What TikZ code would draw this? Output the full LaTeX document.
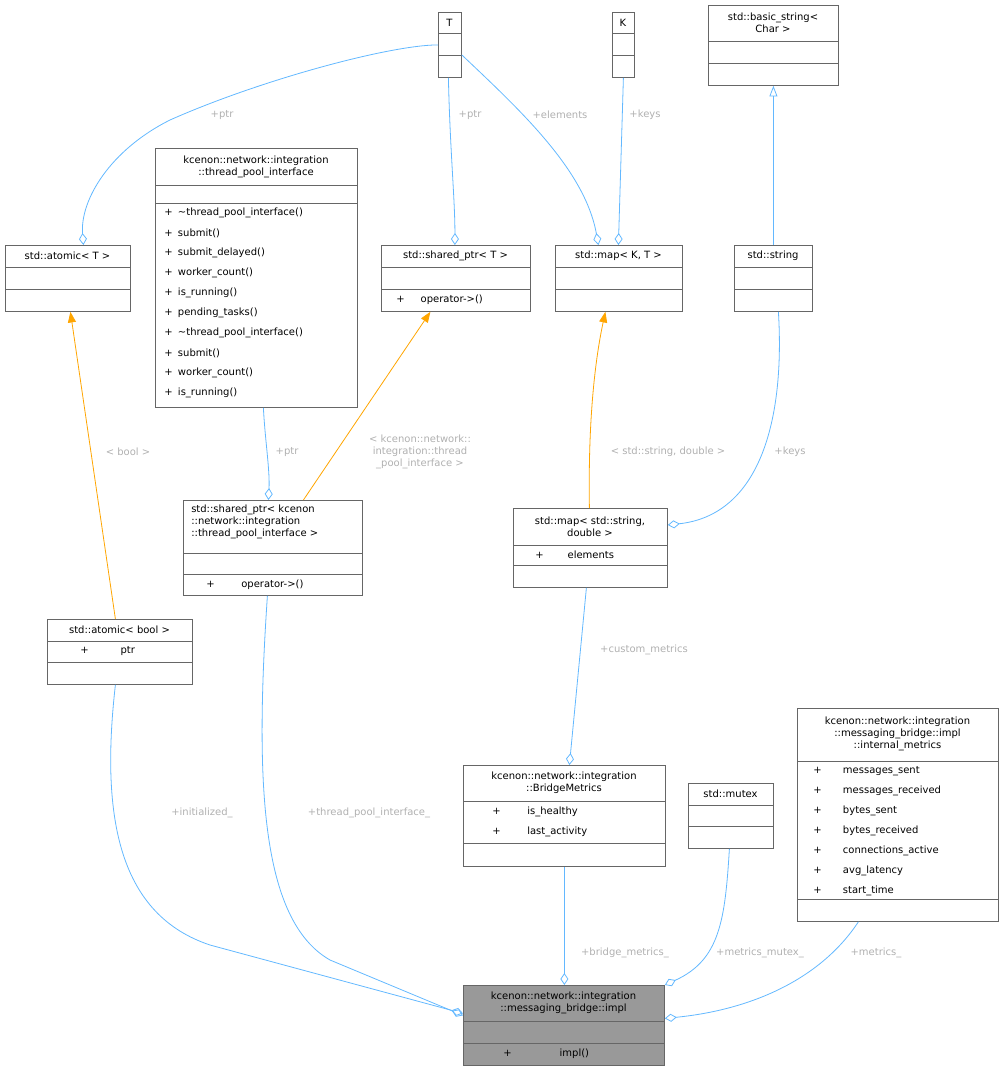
\documentclass[tikz,border=0pt]{standalone}
\usepackage{fontspec}
\setmainfont{DejaVu Sans}
\usetikzlibrary{arrows.meta,calc}
\definecolor{edgeblue}{HTML}{63B8FF}
\definecolor{edgeorange}{HTML}{FFA500}
\definecolor{boxline}{HTML}{666666}
\definecolor{lblgray}{HTML}{B0B0B0}
\tikzset{umlbox/.style = {draw=boxline, inner sep=0, line width=0.6pt},
  txt/.style = {inner sep=0, font=\fontsize{7.5}{9}\selectfont, align=center},
  mem/.style = {txt, anchor=west},
  lbl/.style = {txt, text=lblgray},
  agg/.style = {draw=edgeblue, line width=0.6pt, {Diamond[open, length=9pt, width=6pt]}-},
  inst/.style = {draw=edgeorange, line width=0.6pt, -{Triangle[length=8pt, width=6pt]}},
  inh/.style = {draw=edgeblue, line width=0.6pt, -{Triangle[open, length=8pt, width=6pt]}}}
\newcommand\umlbox[6]{\node[umlbox, fill=#6, minimum width={(#4-#2)*0.75pt},
  minimum height={(#5-#3)*0.75pt}, anchor=north west] (#1) at (#2,#3) {};}
\newcommand\sep[3]{\draw[boxline, line width=0.6pt] (#1,#3) -- (#2,#3);}

\begin{document}
\begin{tikzpicture}[x=0.75pt, y=-0.75pt]
  \useasboundingbox (0,0) rectangle (1003,1071);
  % class boxes
  \umlbox{t}{438}{12}{461}{77}{white}
  \sep{438}{461}{33}\sep{438}{461}{55}
  \node[txt] at (449.5,22.5) {T};
  \umlbox{k}{612}{12}{634}{77}{white}
  \sep{612}{634}{33}\sep{612}{634}{55}
  \node[txt] at (623,22.5) {K};
  \umlbox{bstr}{708}{5}{838}{85}{white}
  \sep{708}{838}{41}\sep{708}{838}{63}
  \node[txt] at (773,23) {std::basic\_string<\\Char >};
  \umlbox{atomt}{5}{245}{130}{311}{white}
  \sep{5}{130}{267}\sep{5}{130}{289}
  \node[txt] at (67.5,256) {std::atomic< T >};
  \umlbox{tpi}{155}{148}{357}{407}{white}
  \sep{155}{357}{185}\sep{155}{357}{203}
  \node[txt] at (256,166.5) {kcenon::network::integration\\::thread\_pool\_interface};
  \foreach \m [count=\i] in {\textasciitilde thread\_pool\_interface(), submit(),
      submit\_delayed(), worker\_count(), is\_running(), pending\_tasks(),
      \textasciitilde thread\_pool\_interface(), submit(), worker\_count(), is\_running()}
    \node[mem] at (164,{203+20*\i-10}) {+\hspace{4pt}\m};
  \umlbox{sptrt}{381}{245}{530}{311}{white}
  \sep{381}{530}{267}\sep{381}{530}{289}
  \node[txt] at (455.5,256) {std::shared\_ptr< T >};
  \node[mem] at (396,300) {+\hspace{12pt}operator->()};
  \umlbox{mapkt}{555}{245}{682}{311}{white}
  \sep{555}{682}{267}\sep{555}{682}{289}
  \node[txt] at (618.5,256) {std::map< K, T >};
  \umlbox{str}{734}{245}{812}{311}{white}
  \sep{734}{812}{267}\sep{734}{812}{289}
  \node[txt] at (773,256) {std::string};
  \umlbox{sptrk}{183}{500}{362}{595}{white}
  \sep{183}{362}{553}\sep{183}{362}{574}
  \node[txt, align=left, anchor=north west] at (191,505) {std::shared\_ptr< kcenon\\::network::integration\\::thread\_pool\_interface >};
  \node[mem] at (206,584.5) {+\hspace{20pt}operator->()};
  \umlbox{mapsd}{513}{508}{667}{587}{white}
  \sep{513}{667}{545}\sep{513}{667}{565}
  \node[txt] at (590,526.5) {std::map< std::string,\\double >};
  \node[mem] at (535,555) {+\hspace{18pt}elements};
  \umlbox{atomb}{47}{619}{192}{684}{white}
  \sep{47}{192}{641}\sep{47}{192}{662}
  \node[txt] at (119.5,630) {std::atomic< bool >};
  \node[mem] at (80,651.5) {+\hspace{24pt}ptr};
  \umlbox{bm}{463}{765}{665}{866}{white}
  \sep{463}{665}{801}\sep{463}{665}{843}
  \node[txt] at (564,783) {kcenon::network::integration\\::BridgeMetrics};
  \node[mem] at (492,812) {+\hspace{20pt}is\_healthy};
  \node[mem] at (492,832) {+\hspace{20pt}last\_activity};
  \umlbox{mtx}{688}{783}{773}{848}{white}
  \sep{688}{773}{805}\sep{688}{773}{826}
  \node[txt] at (730.5,794) {std::mutex};
  \umlbox{im}{797}{708}{998}{921}{white}
  \sep{797}{998}{761}\sep{797}{998}{899}
  \node[txt] at (897.5,734) {kcenon::network::integration\\::messaging\_bridge::impl\\::internal\_metrics};
  \foreach \m [count=\i] in {messages\_sent, messages\_received, bytes\_sent,
      bytes\_received, connections\_active, avg\_latency, start\_time}
    \node[mem] at (813,{761+20*\i-10}) {+\hspace{16pt}\m};
  \umlbox{impl}{463}{985}{664}{1065}{black!40}
  \sep{463}{664}{1021}\sep{463}{664}{1043}
  \node[txt] at (563.5,1003) {kcenon::network::integration\\::messaging\_bridge::impl};
  \node[mem] at (503,1054) {+\hspace{36pt}impl()};
  % relations
  \draw[agg] ($(atomt.north)+(15.5,0)$) .. controls (80,200) and (110,150) .. (170,120) .. controls (260,80) and (390,45) .. (t.west);
  \node[lbl] at (222,115) {+ptr};
  \draw[agg] ($(sptrt.north)+(-1,0)$) .. controls (455,200) and (450,150) .. ($(t.south)+(-1.5,0)$);
  \node[lbl] at (470,115) {+ptr};
  \draw[agg] ($(mapkt.north)+(-20.5,0)$) .. controls (585,170) and (520,110) .. ($(t.east)+(0,10)$);
  \node[lbl] at (560,115) {+elements};
  \draw[agg] ($(mapkt.north)+(-0.5,0)$) -- (k.south);
  \node[lbl] at (645,115) {+keys};
  \draw[inh] (str.north) -- (bstr.south);
  \draw[inst] ($(atomb.north)+(-4.5,0)$) -- ($(atomt.south)+(2.5,0)$);
  \node[lbl] at (128,452) {< bool >};
  \draw[inst] ($(sptrk.north)+(30.5,0)$) -- ($(sptrt.south)+(-25.5,0)$);
  \node[lbl] at (420,452) {< kcenon::network::\\integration::thread\\\_pool\_interface >};
  \draw[agg] ($(sptrk.north)+(-4.5,0)$) .. controls (270,470) and (265,440) .. ($(tpi.south)+(7,0)$);
  \node[lbl] at (287,452) {+ptr};
  \draw[inst] ($(mapsd.north)+(-1,0)$) .. controls (588,420) and (595,360) .. ($(mapkt.south)+(-13.5,0)$);
  \node[lbl] at (668,452) {< std::string, double >};
  \draw[agg] ($(mapsd.north east)+(0,17)$) .. controls (760,515) and (785,420) .. ($(str.south)+(5,0)$);
  \node[lbl] at (790,452) {+keys};
  \draw[agg] ($(bm.north)+(5,0)$) -- ($(mapsd.south)+(-4,0)$);
  \node[lbl] at (644,650) {+custom\_metrics};
  \draw[agg] ($(impl.west)+(0,-12)$) -- (210,945) .. controls (120,915) and (100,820) .. ($(atomb.south)+(-4.5,0)$);
  \node[lbl] at (202,813) {+initialized\_};
  \draw[agg] ($(impl.west)+(0,-10)$) -- (330,960) .. controls (260,920) and (255,780) .. ($(sptrk.south)+(-5.5,0)$);
  \node[lbl] at (369,813) {+thread\_pool\_interface\_};
  \draw[agg] ($(impl.north)+(0.5,0)$) -- (bm.south);
  \node[lbl] at (625,953) {+bridge\_metrics\_};
  \draw[agg] ($(impl.north east)+(0,0)$) .. controls (720,960) and (725,920) .. ($(mtx.south)+(-1.5,0)$);
  \node[lbl] at (760,953) {+metrics\_mutex\_};
  \draw[agg] ($(impl.east)+(0,-7)$) .. controls (750,1010) and (820,980) .. ($(im.south)+(-39.5,0)$);
  \node[lbl] at (876,953) {+metrics\_};
\end{tikzpicture}
\end{document}
